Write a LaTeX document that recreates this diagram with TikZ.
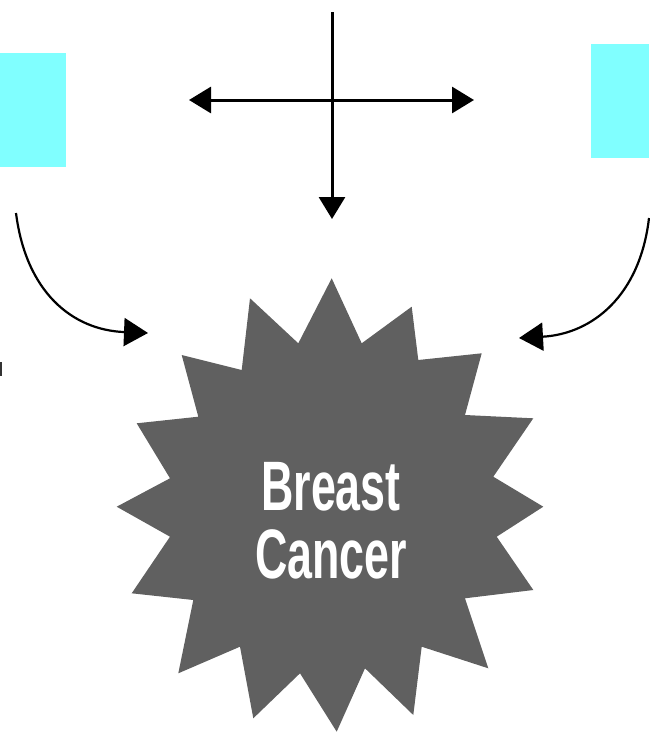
\documentclass[tikz,border=0pt]{standalone}
\usepackage{fontspec}
\newfontfamily\condfont[FakeStretch=0.64]{Liberation Sans}
\usetikzlibrary{arrows.meta}
\definecolor{boxcyan}{RGB}{128,255,255}
\definecolor{burstgray}{RGB}{96,96,96}
\begin{document}
\begin{tikzpicture}[x=1pt,y=-1pt,
  cbox/.style={fill=boxcyan,draw=none,minimum width=#1,minimum height=114pt,inner sep=0pt},
  crossarrow/.style={line width=3pt,-{Triangle[length=22pt,width=26pt]}},
  curvearrow/.style={line width=2.2pt,-{Triangle[length=24pt,width=28pt]}},
  label/.style={text=white,font=\condfont\bfseries\fontsize{70}{68}\selectfont,inner sep=0pt,anchor=base}]
\useasboundingbox (0,0) rectangle (649,734);
% boxes (cropped at the edges)
\node[cbox=66pt,anchor=north west] (lbox) at (0,53) {};
\node[cbox=58pt,anchor=north west] (rbox) at (591,44) {};
% cross of arrows
\coordinate (ctop) at (332,12);
\coordinate (cmid) at (332,100);
\coordinate (cdown) at (332,219);
\coordinate (cleft) at (189,100);
\coordinate (cright) at (474,100);
\draw[line width=3pt] (ctop) -- (cmid);
\draw[crossarrow] (cmid) -- (cdown);
\draw[crossarrow] (cmid) -- (cleft);
\draw[crossarrow] (cmid) -- (cright);
% starburst
\fill[burstgray] (331.7,278.3) -- (361.7,343.3) -- (411.7,306.7) -- (418.3,360)
  -- (481.7,353.3) -- (465,415) -- (533.3,418.3) -- (493.3,476.7)
  -- (543.3,506.7) -- (496.7,536.7) -- (533.3,590) -- (465,598.3)
  -- (488.3,668.3) -- (421.7,646.7) -- (413.3,715) -- (365,668.3)
  -- (336.7,731.7) -- (300,673.3) -- (253.3,718.3) -- (240,646.7)
  -- (178.3,673.3) -- (193.3,600) -- (131.7,593.3) -- (170,536.7)
  -- (116.7,506.7) -- (170,478.3) -- (136.7,423.3) -- (198.3,416.7)
  -- (181.7,355) -- (241.7,370) -- (250,298.3) -- (298.3,343.3) -- cycle;
\coordinate (burst) at (331,506);
\node[label] (t1) at (331,510) {Breast};
\node[label] (t2) at (331,578) {Cancer};
% curved arrows
\coordinate (lstart) at (16,213);
\coordinate (lend) at (148,333);
\coordinate (rstart) at (649,218);
\coordinate (rend) at (519,338);
\draw[curvearrow] (lstart) .. controls (26,292) and (72,330) .. (lend);
\draw[curvearrow] (rstart) .. controls (640,296) and (592,334) .. (rend);
% cropped fragment at left edge
\coordinate (fragtop) at (1,362);
\coordinate (fragbot) at (1,376);
\draw[line width=2.5pt,black!80] (fragtop) -- (fragbot);
\end{tikzpicture}
\end{document}
